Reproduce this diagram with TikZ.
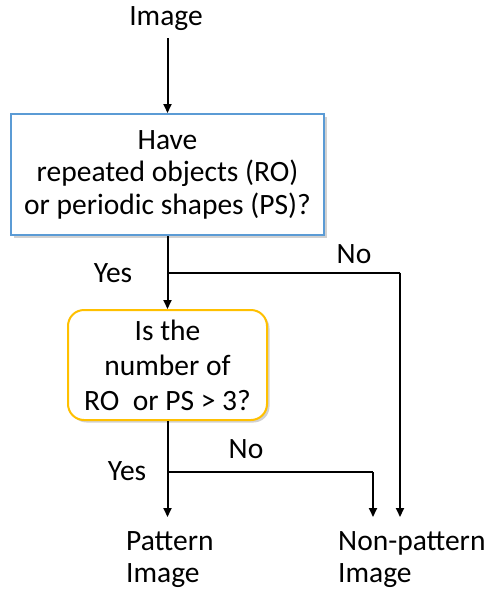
\documentclass[tikz,border=0pt]{standalone}
\usepackage{fontspec}
\setmainfont{Carlito}
\usetikzlibrary{arrows.meta,shadows}
\definecolor{boxblue}{HTML}{5B9BD5}
\definecolor{boxgold}{HTML}{FFC000}

\begin{document}
\begin{tikzpicture}[x=1pt,y=-1pt,
  txt/.style={font=\fontsize{29.5}{32.5}\selectfont, inner sep=0pt},
  arr/.style={line width=2pt,-{Triangle[length=9pt,width=8pt]}},
  wire/.style={line width=2pt},
  softshadow/.style={drop shadow={shadow xshift=2.5pt, shadow yshift=-2.5pt, opacity=0.3, fill=black!60}},
  askbox/.style={txt, draw=boxblue, line width=2pt, fill=white, align=center,
    minimum width=313pt, minimum height=121pt, softshadow},
  countbox/.style={txt, font=\fontsize{29.5}{35}\selectfont, draw=boxgold, line width=2pt, fill=white,
    align=center, rounded corners=16pt, minimum width=199pt, minimum height=110pt, softshadow},
  lbl/.style={txt, anchor=base},
  outcome/.style={txt, font=\fontsize{29.5}{32}\selectfont, align=left, anchor=base west}
]
\useasboundingbox (0,0) rectangle (485,595);

% text and boxes
\node[lbl] (img) at (166,25) {Image};
\node[askbox] (q1) at (167.5,174.5) {Have\\repeated objects (RO)\\or periodic shapes (PS)?};
\node[countbox] (q2) at (167.5,365) {Is the\\number of\\RO\ \ or PS > 3?};
% multi-line labels sit on the baseline of their last line
\node[outcome] (pat) at (126,582) {Pattern\\Image};
\node[outcome] (nonpat) at (338,582) {Non-pattern\\Image};

\node[lbl] (yes1) at (113,282) {Yes};
\node[lbl] (no1) at (354,263) {No};
\node[lbl] (yes2) at (127,480) {Yes};
\node[lbl] (no2) at (246,458) {No};

% junctions and arrow ends
\coordinate (top) at (167.5,38);
\coordinate (j1) at (167.5,272.5);
\coordinate (r1) at (400,272.5);
\coordinate (j2) at (167.5,472);
\coordinate (r2) at (373,472);
\coordinate (patend) at (167.5,517);
\coordinate (nonend1) at (373,517);
\coordinate (nonend2) at (400,517);

% connectors
\draw[arr] (top) -- (q1.north);
\draw[arr] (q1.south) -- (q2.north);
\draw[wire] (j1) -- (r1);
\draw[arr] (r1) -- (nonend2);
\draw[arr] (q2.south) -- (patend);
\draw[wire] (j2) -- (r2);
\draw[arr] (r2) -- (nonend1);
\end{tikzpicture}
\end{document}
